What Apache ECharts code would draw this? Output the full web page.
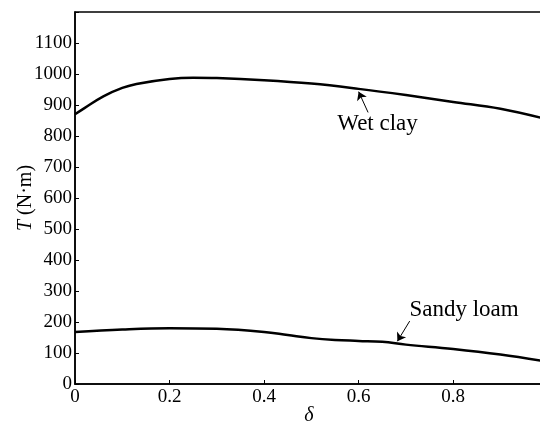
<!DOCTYPE html>
<html>
<head>
<meta charset="utf-8">
<script src="https://cdn.jsdelivr.net/npm/echarts@6/dist/echarts.min.js"></script>
<style>html,body{margin:0;padding:0;background:#fff}#c{width:540px;height:423px}</style>
</head>
<body>
<div id="c"></div>
<script>
const wetClayDelta = [0, 0.02, 0.06, 0.10, 0.13, 0.20, 0.25, 0.30, 0.40, 0.50, 0.60, 0.70, 0.80, 0.90, 0.99];
const wetClayT     = [870, 890, 928, 955, 968, 984, 988, 987, 980, 969, 952, 932, 910, 888, 857];
const sandyDelta = [0, 0.10, 0.20, 0.30, 0.40, 0.45, 0.50, 0.55, 0.60, 0.65, 0.70, 0.80, 0.90, 0.99];
const sandyT     = [168, 176, 180, 178, 168, 158, 148, 142, 139, 136, 127, 113, 95, 74];
const yTicks = [0, 100, 200, 300, 400, 500, 600, 700, 800, 900, 1000, 1100];
const xTicks = [0, 0.2, 0.4, 0.6, 0.8];
const seriesNames = ['Wet clay', 'Sandy loam'];

const FONT = 'Liberation Serif';
const zip = (a, b) => a.map((v, i) => [v, b[i]]);

const chart = echarts.init(document.getElementById('c'), null, {renderer: 'canvas'});
const axisLineStyle = {color: '#000', width: 1.5};
chart.setOption({
  animation: false,
  backgroundColor: '#fff',
  grid: {left: 75, right: -3, top: 12, bottom: 39, containLabel: false, outerBoundsMode: 'none',
    show: true, borderColor: '#000', borderWidth: 1.5, backgroundColor: 'transparent'},
  xAxis: {
    type: 'value', min: 0, max: 0.99, interval: 0.2,
    name: 'δ', nameLocation: 'middle', nameGap: 22, nameMoveOverlap: false,
    nameTextStyle: {fontFamily: FONT, fontSize: 20, fontStyle: 'italic', color: '#000'},
    axisLine: {show: true, onZero: false, lineStyle: axisLineStyle},
    axisTick: {show: true, inside: true, length: 4, lineStyle: {color: '#000'}},
    axisLabel: {fontFamily: FONT, fontSize: 19, color: '#000', margin: 4, showMaxLabel: false,
      formatter: v => xTicks.includes(Math.round(v * 10) / 10) ? String(Math.round(v * 10) / 10) : ''},
    splitLine: {show: false}
  },
  yAxis: {
    type: 'value', min: 0, max: 1200, interval: 100,
    name: '{i|T} (N·m)', nameLocation: 'middle', nameGap: 39, nameRotate: 90, nameMoveOverlap: false,
    nameTextStyle: {fontFamily: FONT, fontSize: 20, color: '#000',
      rich: {i: {fontFamily: FONT, fontSize: 20, fontStyle: 'italic', color: '#000'}}},
    axisLine: {show: true, onZero: false, lineStyle: axisLineStyle},
    axisTick: {show: true, inside: true, length: 4, lineStyle: {color: '#000'}},
    axisLabel: {fontFamily: FONT, fontSize: 19, color: '#000', margin: 3,
      formatter: v => yTicks.includes(v) ? String(v) : ''},
    splitLine: {show: false}
  },
  series: [{
    name: seriesNames[0], type: 'line', smooth: 0.4, showSymbol: false,
    data: zip(wetClayDelta, wetClayT),
    lineStyle: {color: '#000', width: 2.5},
    markLine: {
      silent: true, symbol: ['none', 'arrow'], symbolSize: 8,
      lineStyle: {color: '#000', width: 1, type: 'solid'}, label: {show: false},
      data: [[{coord: [0.62, 876]}, {coord: [0.60, 943]}]]
    },
    markPoint: {
      silent: true, symbol: 'circle', symbolSize: 0,
      label: {show: true, formatter: seriesNames[0], fontFamily: FONT, fontSize: 23, color: '#000', position: 'inside'},
      data: [{coord: [0.64, 838]}]
    }
  }, {
    name: seriesNames[1], type: 'line', smooth: 0.4, showSymbol: false,
    data: zip(sandyDelta, sandyT),
    lineStyle: {color: '#000', width: 2.5},
    markLine: {
      silent: true, symbol: ['none', 'arrow'], symbolSize: 8,
      lineStyle: {color: '#000', width: 1, type: 'solid'}, label: {show: false},
      data: [[{coord: [0.708, 203]}, {coord: [0.682, 138]}]]
    },
    markPoint: {
      silent: true, symbol: 'circle', symbolSize: 0,
      label: {show: true, formatter: seriesNames[1], fontFamily: FONT, fontSize: 23, color: '#000', position: 'inside'},
      data: [{coord: [0.823, 238]}]
    }
  }]
});
</script>
</body>
</html>
